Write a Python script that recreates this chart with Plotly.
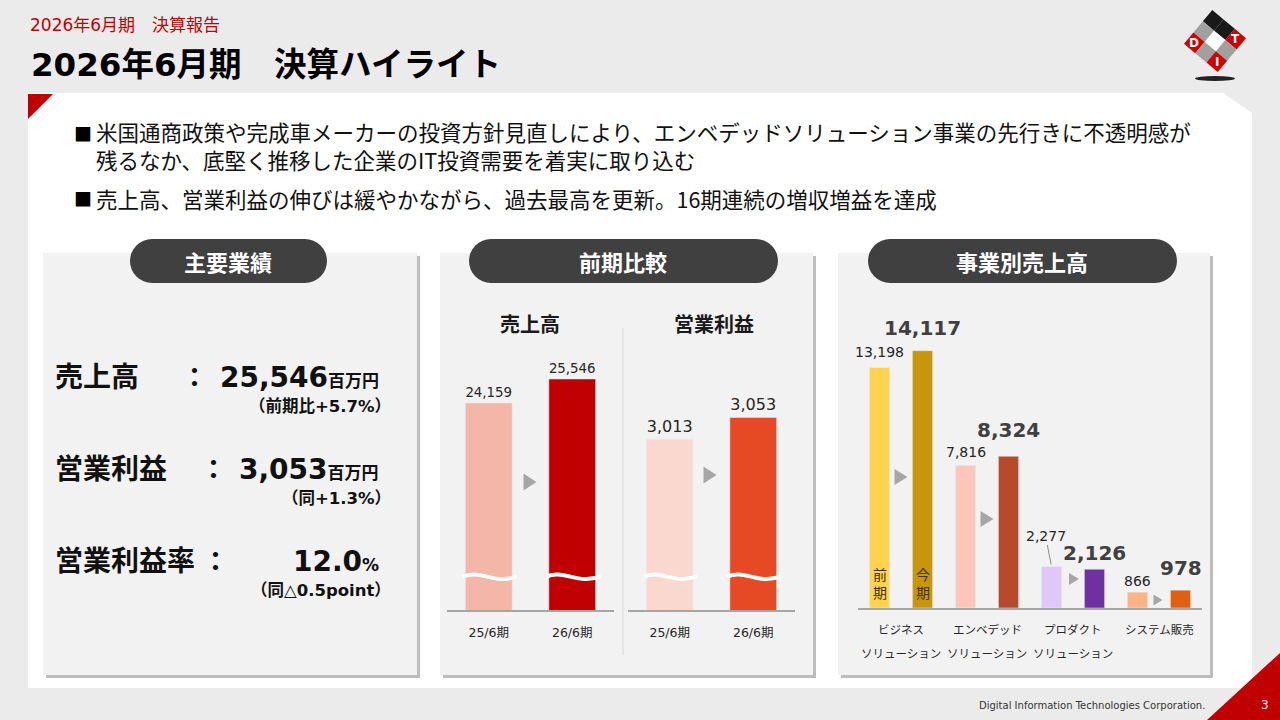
import math
import plotly.graph_objects as go

W, H = 1280, 720

# ---- data ----
periods = ["25/6期", "26/6期"]
sales = [24159, 25546]
op_income = [3013, 3053]

segments = ["ビジネス\nソリューション", "エンベデッド\nソリューション",
            "プロダクト\nソリューション", "システム販売"]
seg_prev = [13198, 7816, 2277, 866]
seg_curr = [14117, 8324, 2126, 978]

summary_labels = ["売上高", "営業利益", "営業利益率"]
summary_values = ["25,546", "3,053", "12.0"]
summary_units = ["百万円", "百万円", "%"]
summary_notes = ["（前期比+5.7%）", "（同+1.3%）", "（同△0.5point）"]

bullets = [
    ["米国通商政策や完成車メーカーの投資方針見直しにより、エンベデッドソリューション事業の先行きに不透明感が",
     "残るなか、底堅く推移した企業のIT投資需要を着実に取り込む"],
    ["売上高、営業利益の伸びは緩やかながら、過去最高を更新。16期連続の増収増益を達成"],
]

# ---- style ----
JP = "Noto Sans CJK JP"
NUM = "DejaVu Sans, Noto Sans CJK JP"
sales_colors = ["#F4B6A6", "#C00000"]
op_colors = ["#FAD8D0", "#E64A25"]
seg_prev_colors = ["#FFD24F", "#FCC6BA", "#DFC8F8", "#FBB386"]
seg_curr_colors = ["#C8960A", "#B84A2C", "#7030A0", "#E0600E"]
ARROW_GRAY = "#A6A6A6"

# broken axes for the middle panel
SALES_AXIS = [12200, 27800]
OP_AXIS = [2700, 3195]


def X(x):
    return x / W


def Y(y):
    return 1 - y / H


def poly(points, color, layer="below", line=None):
    d = "M " + " L ".join(f"{X(a):.5f},{Y(b):.5f}" for a, b in points) + " Z"
    return dict(type="path", path=d, xref="paper", yref="paper", fillcolor=color,
                line=line or dict(width=0), layer=layer)


def rect(x0, y0, x1, y1, color, layer="below"):
    return dict(type="rect", xref="paper", yref="paper", x0=X(x0), x1=X(x1),
                y0=Y(y1), y1=Y(y0), fillcolor=color, line=dict(width=0), layer=layer)


def circle(cx, cy, r, color, layer="below"):
    return dict(type="circle", xref="paper", yref="paper", x0=X(cx - r), x1=X(cx + r),
                y0=Y(cy + r), y1=Y(cy - r), fillcolor=color, line=dict(width=0), layer=layer)


def pill(x0, x1, y0, y1, color="#404040"):
    r = (y1 - y0) / 2
    return [rect(x0 + r, y0, x1 - r, y1, color),
            circle(x0 + r, y0 + r, r, color), circle(x1 - r, y0 + r, r, color)]


def tri(cx, cy, w, h):
    return poly([(cx - w / 2, cy - h / 2), (cx + w / 2, cy), (cx - w / 2, cy + h / 2)],
                ARROW_GRAY, layer="above")


def wave(x0, x1, y):
    w = x1 - x0
    pts = [(x0, y), (x0 + w * 0.3, y - 9), (x0 + w * 0.6, y + 9), (x1, y - 1)]
    d = f"M {X(pts[0][0]):.5f},{Y(pts[0][1]):.5f} C " + " ".join(
        f"{X(a):.5f},{Y(b):.5f}" for a, b in pts[1:])
    return dict(type="path", path=d, xref="paper", yref="paper",
                line=dict(color="white", width=4), layer="above")


ann = []


def text(x, y, s, size, color="#000000", family=JP, xanchor="left", yanchor="middle", **kw):
    ann.append(dict(x=X(x), y=Y(y), xref="paper", yref="paper", text=s, showarrow=False,
                    xanchor=xanchor, yanchor=yanchor,
                    font=dict(size=size, color=color, family=family), **kw))


fig = go.Figure()

# ---- middle panel: sales / operating income ----
fig.add_trace(go.Bar(x=[0, 1], y=sales, marker_color=sales_colors, width=0.56,
                     text=[f"{v:,}" for v in sales], textposition="outside",
                     textfont=dict(family=NUM, size=16, color="#262626"),
                     xaxis="x", yaxis="y", hoverinfo="skip"))
fig.add_trace(go.Bar(x=[0, 1], y=op_income, marker_color=op_colors, width=0.56,
                     text=[f"{v:,}" for v in op_income], textposition="outside",
                     textfont=dict(family=NUM, size=16, color="#262626"),
                     xaxis="x2", yaxis="y2", hoverinfo="skip"))

# ---- right panel: sales by segment ----
prev_x = [2 * i for i in range(len(segments))]
curr_x = [2 * i + 1 for i in range(len(segments))]
fig.add_trace(go.Bar(x=prev_x, y=seg_prev, marker_color=seg_prev_colors, width=0.47,
                     xaxis="x3", yaxis="y3", hoverinfo="skip"))
fig.add_trace(go.Bar(x=curr_x, y=seg_curr, marker_color=seg_curr_colors, width=0.47,
                     xaxis="x3", yaxis="y3", hoverinfo="skip"))

prev_shift = [15, 14, 0, 11]
curr_shift = [23, 26, 16, 22]
for i, (p, c) in enumerate(zip(seg_prev, seg_curr)):
    if i == 2:
        ann.append(dict(x=prev_x[i], y=p, xref="x3", yref="y3", text=f"{p:,}",
                        showarrow=True, arrowhead=0, arrowwidth=1, arrowcolor="#8c8c8c",
                        ax=-6, ay=-31, standoff=2,
                        font=dict(family=NUM, size=14, color="#262626")))
    else:
        ann.append(dict(x=prev_x[i], y=p, xref="x3", yref="y3", text=f"{p:,}",
                        showarrow=False, yanchor="middle", yshift=prev_shift[i],
                        font=dict(family=NUM, size=14, color="#262626")))
    ann.append(dict(x=curr_x[i], y=c, xref="x3", yref="y3", text=f"<b>{c:,}</b>",
                    showarrow=False, yanchor="middle", yshift=curr_shift[i],
                    font=dict(family=NUM, size=20, color="#404040")))
    lines = segments[i].split("\n")
    for k, ln in enumerate(lines):
        ann.append(dict(x=2 * i + 0.5, y=Y(629 + 24 * k), xref="x3", yref="paper", text=ln,
                        showarrow=False, yanchor="middle",
                        font=dict(family=JP, size=11.5, color="#262626")))

for xi, s in zip([0, 1], ["前<br>期", "今<br>期"]):
    ann.append(dict(x=xi, y=Y(604), xref="x3", yref="paper", text=s, showarrow=False,
                    yanchor="bottom", font=dict(family=JP, size=14, color="#3d3000")))

# ---- shapes ----
shapes = []
# main white panel and corner triangles
shapes.append(poly([(28, 93), (1223, 93), (1252, 113), (1252, 688), (28, 688)], "#FFFFFF"))
shapes.append(poly([(28, 94), (53, 94), (28, 119)], "#C00000"))
shapes.append(poly([(1207, 720), (1280, 720), (1280, 653)], "#C00000"))

# three gray panels with shadow
for x0, x1 in [(43, 417), (440, 813), (838, 1210)]:
    shapes.append(rect(x0 + 3, 256, x1 + 3, 678, "#BDBDBD"))
    shapes.append(rect(x0, 253, x1, 675, "#F2F2F2"))

shapes += pill(130, 327, 239, 283)
shapes += pill(469, 778, 239, 283)
shapes += pill(868, 1177, 239, 283)

# separator in middle panel
shapes.append(dict(type="line", xref="paper", yref="paper", x0=X(623), x1=X(623),
                   y0=Y(328), y1=Y(655), line=dict(color="#D9D9D9", width=1), layer="below"))

# break marks
for x0, x1 in [(463, 517), (546, 601), (644, 697), (727, 781)]:
    shapes.append(wave(x0, x1, 577))

# gray arrows
for cx, cy, w, h in [(530, 482, 13, 17), (710, 475, 13, 17),
                     (901, 477, 13, 16), (987, 519, 13, 16),
                     (1074, 579, 10, 12), (1158, 600, 9, 11)]:
    shapes.append(tri(cx, cy, w, h))

# logo (simplified DIT cube)
lcx, lcy, side, ang = 1215, 41, 44, math.radians(40)


def lpt(u, v):
    u, v = u - 1.5, v - 1.5
    s = side / 3
    return (lcx + (u * math.cos(ang) - v * math.sin(ang)) * s,
            lcy + (u * math.sin(ang) + v * math.cos(ang)) * s)


cell_colors = {(0, 0): "#1A1A1A", (1, 0): "#1A1A1A", (2, 0): "#D00000",
               (0, 1): "#A0A0A0", (1, 1): "#FFFFFF", (2, 1): "#A0A0A0",
               (0, 2): "#D00000", (1, 2): "#A0A0A0", (2, 2): "#D00000"}
for (u, v), col in cell_colors.items():
    shapes.append(poly([lpt(u, v), lpt(u + 1, v), lpt(u + 1, v + 1), lpt(u, v + 1)], col,
                       layer="above"))
shapes.append(dict(type="circle", xref="paper", yref="paper", x0=X(1195), x1=X(1235),
                   y0=Y(81), y1=Y(76), fillcolor="#222222", line=dict(width=0)))
for (u, v), ch in [((0.5, 2.5), "D"), ((2.5, 0.5), "T"), ((2.5, 2.5), "I")]:
    px_, py_ = lpt(u, v)
    text(px_, py_, f"<b>{ch}</b>", 12, "#FFFFFF", "DejaVu Sans", xanchor="center")

# ---- header texts ----
text(28, 25, "2026年6月期　決算報告", 17, "#C00000", NUM)
text(29, 65, "<b>2026年6月期　決算ハイライト</b>", 32.5, "#000000", NUM)

by = [146, 198]
for lines, yy in zip(bullets, by):
    top = yy - 13 * (len(lines) - 1)
    text(72, top, "■", 18, "#000000")
    text(94, yy, "<br>".join(lines), 21.5, "#111111", align="left")

# pill titles
text(228, 261, "<b>主要業績</b>", 22, "#FFFFFF", xanchor="center")
text(623, 261, "<b>前期比較</b>", 22, "#FFFFFF", xanchor="center")
text(1022, 261, "<b>事業別売上高</b>", 22, "#FFFFFF", xanchor="center")

# middle panel subtitles
text(530, 323, "<b>売上高</b>", 20, "#1A1A1A", xanchor="center")
text(714, 323, "<b>営業利益</b>", 20, "#1A1A1A", xanchor="center")

# left panel summary
row_y = [375, 467, 559]
note_y = [406, 498, 590]
colon_x = [179, 198, 200]
for lab, val, unit, note, yy, ny, cx in zip(summary_labels, summary_values, summary_units,
                                            summary_notes, row_y, note_y, colon_x):
    text(53, yy, f"<b>{lab}</b>", 28, "#111111")
    text(cx, yy, "<b>：</b>", 27, "#111111")
    text(381, yy + 2, f"<b>{val}<span style='font-size:17px'>{unit}</span></b>", 28,
         "#111111", NUM, xanchor="right")
    text(393, ny, f"<b>{note}</b>", 16.5, "#111111", NUM, xanchor="right")

# footer
text(1207, 705, "Digital Information Technologies Corporation.", 10, "#333333",
     "DejaVu Sans", xanchor="right")
text(1265, 705, "3", 12, "#FFFFFF", "DejaVu Sans", xanchor="center")

# ---- axes ----
xcommon = dict(showgrid=False, zeroline=False, showline=True, linecolor="#A6A6A6",
               linewidth=1.5, ticks="", fixedrange=True)
ycommon = dict(showgrid=False, zeroline=False, showline=False, showticklabels=False,
               fixedrange=True)

fig.update_layout(
    width=W, height=H,
    margin=dict(l=0, r=0, t=0, b=0),
    paper_bgcolor="#EBEBEB",
    plot_bgcolor="rgba(0,0,0,0)",
    showlegend=False,
    shapes=shapes,
    annotations=ann,
    xaxis=dict(domain=[X(447), X(614)], range=[-0.5, 1.5], tickvals=[0, 1], ticktext=periods,
               tickfont=dict(family=NUM, size=12.5, color="#262626"), ticklabelstandoff=10,
               anchor="y", **xcommon),
    yaxis=dict(domain=[Y(610), Y(340)], range=SALES_AXIS, anchor="x", **ycommon),
    xaxis2=dict(domain=[X(628), X(795)], range=[-0.5, 1.5], tickvals=[0, 1], ticktext=periods,
                tickfont=dict(family=NUM, size=12.5, color="#262626"), ticklabelstandoff=10,
                anchor="y2", **xcommon),
    yaxis2=dict(domain=[Y(610), Y(340)], range=OP_AXIS, anchor="x2", **ycommon),
    xaxis3=dict(domain=[X(858), X(1202)], range=[-0.5, 7.5], showticklabels=False,
                anchor="y3", **xcommon),
    yaxis3=dict(domain=[Y(608), Y(320)], range=[0, 15800], anchor="x3", **ycommon),
)

fig.write_html("out.html", config={"displayModeBar": False},
               post_script="document.body.style.margin='0';")
